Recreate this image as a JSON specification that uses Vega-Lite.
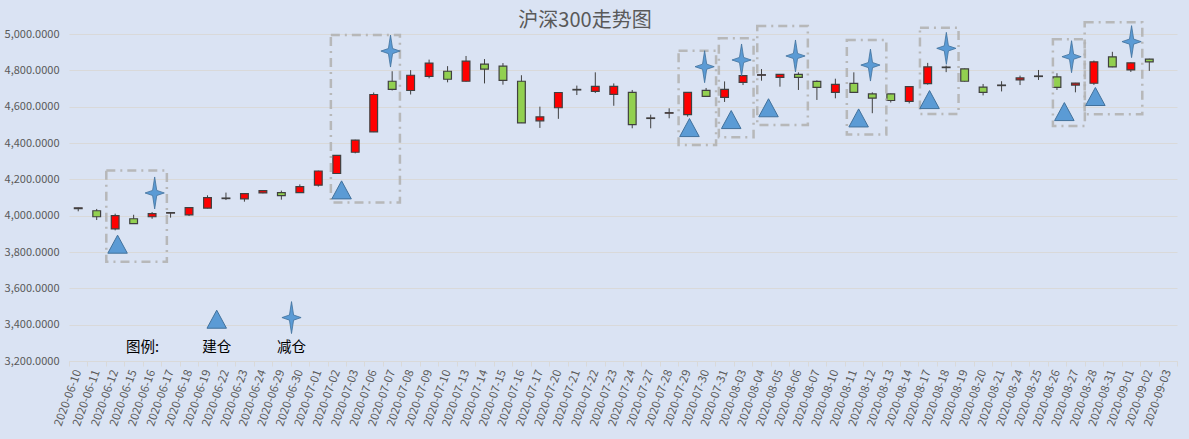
{
  "$schema": "https://vega.github.io/schema/vega-lite/v6.json",
  "width": 1108,
  "height": 327,
  "autosize": {"type": "none"},
  "padding": {"left": 69, "top": 34, "right": 12, "bottom": 78},
  "background": "#dae3f3",
  "title": {
    "text": "沪深300走势图",
    "fontSize": 20,
    "fontWeight": "normal",
    "color": "#595959",
    "font": "Noto Sans CJK SC",
    "frame": "group",
    "offset": -10,
    "dx": -38
  },
  "datasets": {
    "kline": [
      {"date": "2020-06-10", "open": 4039, "high": 4044, "low": 4024, "close": 4043},
      {"date": "2020-06-11", "open": 4027, "high": 4037, "low": 3976, "close": 3994},
      {"date": "2020-06-12", "open": 3927, "high": 4011, "low": 3919, "close": 4000},
      {"date": "2020-06-15", "open": 3983, "high": 4005, "low": 3955, "close": 3956},
      {"date": "2020-06-16", "open": 3994, "high": 4020, "low": 3983, "close": 4011},
      {"date": "2020-06-17", "open": 4014, "high": 4018, "low": 3989, "close": 4017},
      {"date": "2020-06-18", "open": 4004, "high": 4046, "low": 3998, "close": 4044},
      {"date": "2020-06-19", "open": 4042, "high": 4112, "low": 4040, "close": 4099},
      {"date": "2020-06-22", "open": 4094, "high": 4127, "low": 4086, "close": 4097},
      {"date": "2020-06-23", "open": 4092, "high": 4123, "low": 4077, "close": 4121},
      {"date": "2020-06-24", "open": 4125, "high": 4140, "low": 4123, "close": 4138},
      {"date": "2020-06-29", "open": 4127, "high": 4138, "low": 4088, "close": 4110},
      {"date": "2020-06-30", "open": 4127, "high": 4172, "low": 4126, "close": 4160},
      {"date": "2020-07-01", "open": 4168, "high": 4248, "low": 4160, "close": 4246},
      {"date": "2020-07-02", "open": 4232, "high": 4334, "low": 4230, "close": 4332},
      {"date": "2020-07-03", "open": 4349, "high": 4418, "low": 4343, "close": 4416},
      {"date": "2020-07-06", "open": 4461, "high": 4678, "low": 4460, "close": 4667},
      {"date": "2020-07-07", "open": 4740, "high": 4795, "low": 4689, "close": 4695},
      {"date": "2020-07-08", "open": 4689, "high": 4801, "low": 4667, "close": 4773},
      {"date": "2020-07-09", "open": 4767, "high": 4859, "low": 4756, "close": 4840},
      {"date": "2020-07-10", "open": 4795, "high": 4823, "low": 4734, "close": 4751},
      {"date": "2020-07-13", "open": 4740, "high": 4879, "low": 4738, "close": 4851},
      {"date": "2020-07-14", "open": 4834, "high": 4862, "low": 4728, "close": 4807},
      {"date": "2020-07-15", "open": 4823, "high": 4840, "low": 4721, "close": 4745},
      {"date": "2020-07-16", "open": 4740, "high": 4773, "low": 4510, "close": 4511},
      {"date": "2020-07-17", "open": 4522, "high": 4600, "low": 4483, "close": 4544},
      {"date": "2020-07-20", "open": 4594, "high": 4680, "low": 4533, "close": 4678},
      {"date": "2020-07-21", "open": 4692, "high": 4716, "low": 4664, "close": 4695},
      {"date": "2020-07-22", "open": 4684, "high": 4789, "low": 4675, "close": 4712},
      {"date": "2020-07-23", "open": 4668, "high": 4728, "low": 4605, "close": 4712},
      {"date": "2020-07-24", "open": 4679, "high": 4692, "low": 4481, "close": 4501},
      {"date": "2020-07-27", "open": 4535, "high": 4556, "low": 4481, "close": 4538},
      {"date": "2020-07-28", "open": 4564, "high": 4591, "low": 4536, "close": 4567},
      {"date": "2020-07-29", "open": 4556, "high": 4680, "low": 4545, "close": 4679},
      {"date": "2020-07-30", "open": 4690, "high": 4703, "low": 4655, "close": 4657},
      {"date": "2020-07-31", "open": 4651, "high": 4739, "low": 4626, "close": 4695},
      {"date": "2020-08-03", "open": 4734, "high": 4772, "low": 4719, "close": 4771},
      {"date": "2020-08-04", "open": 4773, "high": 4807, "low": 4743, "close": 4776},
      {"date": "2020-08-05", "open": 4761, "high": 4779, "low": 4710, "close": 4778},
      {"date": "2020-08-06", "open": 4778, "high": 4789, "low": 4692, "close": 4761},
      {"date": "2020-08-07", "open": 4739, "high": 4745, "low": 4637, "close": 4706},
      {"date": "2020-08-10", "open": 4679, "high": 4754, "low": 4646, "close": 4723},
      {"date": "2020-08-11", "open": 4728, "high": 4789, "low": 4678, "close": 4679},
      {"date": "2020-08-12", "open": 4670, "high": 4679, "low": 4564, "close": 4647},
      {"date": "2020-08-13", "open": 4670, "high": 4672, "low": 4623, "close": 4634},
      {"date": "2020-08-14", "open": 4629, "high": 4712, "low": 4618, "close": 4710},
      {"date": "2020-08-17", "open": 4727, "high": 4841, "low": 4721, "close": 4819},
      {"date": "2020-08-18", "open": 4815, "high": 4826, "low": 4790, "close": 4818},
      {"date": "2020-08-19", "open": 4808, "high": 4810, "low": 4738, "close": 4740},
      {"date": "2020-08-20", "open": 4708, "high": 4725, "low": 4662, "close": 4679},
      {"date": "2020-08-21", "open": 4716, "high": 4740, "low": 4684, "close": 4719},
      {"date": "2020-08-24", "open": 4747, "high": 4771, "low": 4719, "close": 4758},
      {"date": "2020-08-25", "open": 4766, "high": 4802, "low": 4747, "close": 4769},
      {"date": "2020-08-26", "open": 4764, "high": 4784, "low": 4692, "close": 4706},
      {"date": "2020-08-27", "open": 4719, "high": 4731, "low": 4679, "close": 4730},
      {"date": "2020-08-28", "open": 4729, "high": 4854, "low": 4720, "close": 4847},
      {"date": "2020-08-31", "open": 4874, "high": 4902, "low": 4817, "close": 4819},
      {"date": "2020-09-01", "open": 4802, "high": 4843, "low": 4791, "close": 4841},
      {"date": "2020-09-02", "open": 4862, "high": 4864, "low": 4797, "close": 4847}
    ],
    "boxes": [
      {"x1": 1.52, "x2": 4.8, "top": 4248, "bottom": 3747},
      {"x1": 13.68, "x2": 17.42, "top": 4995, "bottom": 4073},
      {"x1": 32.51, "x2": 34.54, "top": 4908, "bottom": 4389},
      {"x1": 34.69, "x2": 36.57, "top": 4976, "bottom": 4431},
      {"x1": 36.77, "x2": 39.51, "top": 5044, "bottom": 4499},
      {"x1": 41.62, "x2": 43.76, "top": 4967, "bottom": 4447},
      {"x1": 45.58, "x2": 47.67, "top": 5035, "bottom": 4560},
      {"x1": 52.78, "x2": 54.51, "top": 4971, "bottom": 4494},
      {"x1": 54.5, "x2": 57.62, "top": 5064, "bottom": 4558}
    ],
    "buy": [
      {"idx": 2.13, "price": 3839},
      {"idx": 14.26, "price": 4138},
      {"idx": 33.1, "price": 4481},
      {"idx": 35.36, "price": 4525},
      {"idx": 37.38, "price": 4590},
      {"idx": 42.26, "price": 4534},
      {"idx": 46.1, "price": 4635},
      {"idx": 53.4, "price": 4569},
      {"idx": 55.08, "price": 4652},
      {"idx": 7.5, "price": 3426}
    ],
    "sell": [
      {"idx": 4.14, "price": 4125},
      {"idx": 16.91, "price": 4906},
      {"idx": 33.92, "price": 4820},
      {"idx": 35.92, "price": 4857},
      {"idx": 38.84, "price": 4879},
      {"idx": 42.9, "price": 4829},
      {"idx": 47.01, "price": 4921},
      {"idx": 53.79, "price": 4875},
      {"idx": 57.04, "price": 4958},
      {"idx": 11.55, "price": 3439}
    ],
    "legendText": [
      {"idx": 3.48, "price": 3271, "label": "图例:"},
      {"idx": 7.5, "price": 3271, "label": "建仓"},
      {"idx": 11.55, "price": 3271, "label": "减仓"}
    ]
  },
  "layer": [
    {
      "data": {"name": "kline"},
      "encoding": {
        "x": {
          "field": "date",
          "type": "ordinal",
          "title": null,
          "scale": {
            "domain": ["2020-06-10", "2020-06-11", "2020-06-12", "2020-06-15", "2020-06-16", "2020-06-17", "2020-06-18", "2020-06-19", "2020-06-22", "2020-06-23", "2020-06-24", "2020-06-29", "2020-06-30", "2020-07-01", "2020-07-02", "2020-07-03", "2020-07-06", "2020-07-07", "2020-07-08", "2020-07-09", "2020-07-10", "2020-07-13", "2020-07-14", "2020-07-15", "2020-07-16", "2020-07-17", "2020-07-20", "2020-07-21", "2020-07-22", "2020-07-23", "2020-07-24", "2020-07-27", "2020-07-28", "2020-07-29", "2020-07-30", "2020-07-31", "2020-08-03", "2020-08-04", "2020-08-05", "2020-08-06", "2020-08-07", "2020-08-10", "2020-08-11", "2020-08-12", "2020-08-13", "2020-08-14", "2020-08-17", "2020-08-18", "2020-08-19", "2020-08-20", "2020-08-21", "2020-08-24", "2020-08-25", "2020-08-26", "2020-08-27", "2020-08-28", "2020-08-31", "2020-09-01", "2020-09-02", "2020-09-03"],
            "paddingInner": 0,
            "paddingOuter": 0
          },
          "axis": {
            "labelAngle": -70,
            "labelAlign": "right",
            "labelBaseline": "middle",
            "labelFontSize": 11.5,
            "labelColor": "#595959",
            "labelPadding": 4,
            "labelOverlap": false,
            "tickBand": "extent",
            "tickColor": "#d9d9d9",
            "tickSize": 5,
            "domainColor": "#d9d9d9",
            "grid": false
          }
        }
      },
      "layer": [
        {
          "mark": {"type": "rule", "color": "#404040", "strokeWidth": 1},
          "encoding": {
            "y": {"field": "low", "type": "quantitative", "title": null, "scale": {"domain": [3200, 5000], "nice": false, "zero": false}},
            "y2": {"field": "high"}
          }
        },
        {
          "mark": {"type": "bar", "width": {"band": 0.42}, "stroke": "#404040", "strokeWidth": 1.2},
          "encoding": {
            "y": {"field": "open", "type": "quantitative", "title": null},
            "y2": {"field": "close"},
            "color": {
              "condition": {"test": "datum.close > datum.open", "value": "#ff0000"},
              "value": "#92d050"
            }
          }
        }
      ]
    },
    {
      "data": {"name": "boxes"},
      "mark": {"type": "rect", "fill": null, "stroke": "#b3b3b3", "strokeWidth": 2.5, "strokeDash": [9, 5, 2, 5], "strokeOpacity": 0.9},
      "encoding": {
        "x": {"field": "x1", "type": "quantitative", "scale": {"domain": [-0.5, 59.5], "nice": false, "zero": false}, "axis": null},
        "x2": {"field": "x2"},
        "y": {"field": "top", "type": "quantitative", "title": null},
        "y2": {"field": "bottom"}
      }
    },
    {
      "data": {"name": "buy"},
      "mark": {"type": "point", "shape": "M0,-1L1,0.85L-1,0.85Z", "size": 380, "filled": true, "fill": "#5b9bd5", "stroke": "#41719c", "strokeWidth": 1, "opacity": 1},
      "encoding": {
        "x": {"field": "idx", "type": "quantitative", "scale": {"domain": [-0.5, 59.5], "nice": false, "zero": false}, "axis": null},
        "y": {"field": "price", "type": "quantitative", "title": null}
      }
    },
    {
      "data": {"name": "sell"},
      "mark": {"type": "point", "shape": "M0,-1L0.13,-0.16L0.6,0L0.13,0.16L0,1L-0.13,0.16L-0.6,0L-0.13,-0.16Z", "size": 1024, "filled": true, "fill": "#5b9bd5", "stroke": "#41719c", "strokeWidth": 0.8, "opacity": 1},
      "encoding": {
        "x": {"field": "idx", "type": "quantitative", "scale": {"domain": [-0.5, 59.5], "nice": false, "zero": false}, "axis": null},
        "y": {"field": "price", "type": "quantitative", "title": null}
      }
    },
    {
      "data": {"name": "legendText"},
      "mark": {"type": "text", "font": "Noto Sans CJK SC", "fontSize": 14.5, "color": "#000000", "baseline": "middle", "align": "center"},
      "encoding": {
        "x": {"field": "idx", "type": "quantitative", "scale": {"domain": [-0.5, 59.5], "nice": false, "zero": false}, "axis": null},
        "y": {"field": "price", "type": "quantitative", "title": null},
        "text": {"field": "label"}
      }
    }
  ],
  "resolve": {"scale": {"x": "independent"}},
  "config": {
    "font": "Noto Sans CJK SC",
    "view": {"stroke": null},
    "axisY": {
      "format": ",.4f",
      "tickCount": 10,
      "labelFontSize": 11,
      "labelColor": "#595959",
      "labelPadding": 10,
      "domain": false,
      "ticks": false,
      "grid": true,
      "gridColor": "#d9d9d9",
      "title": null
    }
  }
}
